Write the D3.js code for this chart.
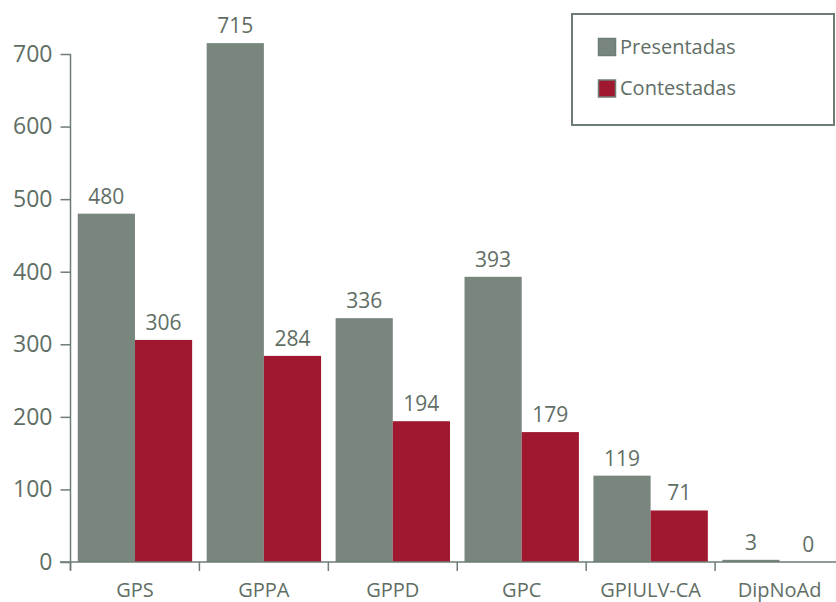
<!DOCTYPE html>
<html><head><meta charset="utf-8">
<script src="https://cdn.jsdelivr.net/npm/d3@7"></script>
<style>body{margin:0;background:#fff}svg{display:block}text{font-family:"Open Sans","Noto Sans",sans-serif;fill:#5f6e65}</style>
</head><body>
<svg id="c" width="836" height="602"></svg>
<script>
const categories = ["GPS","GPPA","GPPD","GPC","GPIULV-CA","DipNoAd"];
const presentadas = [480,715,336,393,119,3];
const contestadas = [306,284,194,179,71,0];
const seriesNames = ["Presentadas","Contestadas"];
const yTicks = [0,100,200,300,400,500,600,700];
const colors = ["#78867d","#a0182f"];

const svg = d3.select("#c");
const axisColor = "#6e7d74";
const x0 = d3.scaleBand().domain(categories).range([70.5, 844]).paddingInner(0).paddingOuter(0);
const x1 = d3.scaleBand().domain(seriesNames).range([0, x0.bandwidth()]).paddingInner(0).paddingOuter(0.127);
const y = d3.scaleLinear().domain([0,700]).range([562,54]);

const data = categories.map((c,i)=>({cat:c, vals:[presentadas[i], contestadas[i]]}));

const g = svg.append("g");
data.forEach(d=>{
  d.vals.forEach((v,j)=>{
    const xb = x0(d.cat)+x1(seriesNames[j]);
    g.append("rect").attr("x",xb).attr("y",y(v)).attr("width",x1.bandwidth()).attr("height",y(0)-y(v)).attr("fill",colors[j]);
    g.append("text").attr("x",xb+x1.bandwidth()/2).attr("y",y(v)-10).attr("text-anchor","middle").attr("font-size",21).text(v);
  });
});

// y axis
const ya = svg.append("g").attr("transform","translate(70.5,0)")
  .call(d3.axisLeft(y).tickValues(yTicks).tickSize(10).tickPadding(8));
ya.select(".domain").attr("stroke",axisColor).attr("stroke-width",1.5).attr("d","M0,54V570");
ya.selectAll(".tick line").attr("stroke",axisColor).attr("stroke-width",1.5);
ya.selectAll(".tick text").attr("font-size",23).attr("fill","#5f6e65").style("font-family","'Open Sans','Noto Sans',sans-serif");

// x axis
const xa = svg.append("g").attr("transform","translate(0,562)");
xa.append("line").attr("x1",60).attr("x2",836).attr("y1",0).attr("y2",0).attr("stroke",axisColor).attr("stroke-width",1.5);
categories.forEach(c=>{
  xa.append("line").attr("x1",x0(c)).attr("x2",x0(c)).attr("y1",0).attr("y2",9).attr("stroke",axisColor).attr("stroke-width",1.5);
  xa.append("text").attr("x",x0(c)+x0.bandwidth()/2).attr("y",35).attr("text-anchor","middle").attr("font-size",20).text(c);
});

// legend
const lg = svg.append("g");
lg.append("rect").attr("x",572).attr("y",14).attr("width",262).attr("height",111).attr("fill","#fff").attr("stroke",axisColor).attr("stroke-width",2);
seriesNames.forEach((s,i)=>{
  const yy = 38.5 + i*41.5;
  lg.append("rect").attr("x",598.5).attr("y",yy).attr("width",17).attr("height",17).attr("fill",colors[i]).attr("stroke","#6e7d74").attr("stroke-width",1.5);
  lg.append("text").attr("x",620).attr("y",yy+15).attr("font-size",20).text(s);
});
</script>
</body></html>
